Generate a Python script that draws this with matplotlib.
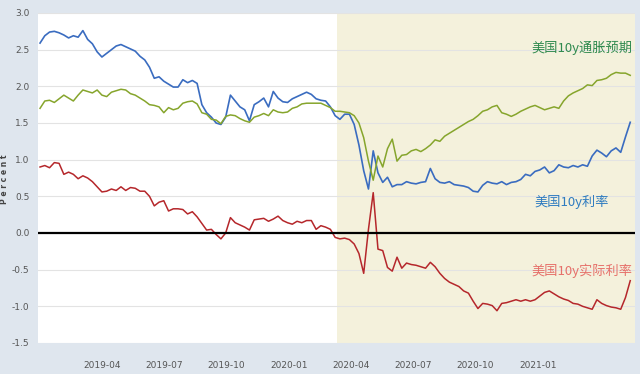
import numpy as np
import pandas as pd
import matplotlib
matplotlib.use('Agg')
import matplotlib.pyplot as plt
import matplotlib.dates as mdates

plt.rcParams['font.family'] = ['Noto Sans CJK SC', 'DejaVu Sans']

# weekly observations, starting 2018-12-31
fechas = pd.date_range('2018-12-31', periods=125, freq='7D')

tasa_10y = [
    2.59, 2.69, 2.74, 2.75, 2.73, 2.70, 2.66, 2.69, 2.67, 2.76,
    2.64, 2.58, 2.47, 2.40, 2.45, 2.50, 2.55, 2.57, 2.54, 2.51,
    2.48, 2.41, 2.36, 2.26, 2.11, 2.13, 2.07, 2.03, 1.99, 1.99,
    2.09, 2.05, 2.08, 2.04, 1.75, 1.64, 1.58, 1.50, 1.48, 1.58,
    1.88, 1.80, 1.72, 1.68, 1.53, 1.75, 1.79, 1.84, 1.72, 1.93,
    1.84, 1.79, 1.78, 1.83, 1.86, 1.89, 1.92, 1.89, 1.83, 1.81,
    1.80, 1.72, 1.60, 1.55, 1.62, 1.62, 1.48, 1.20, 0.85, 0.60,
    1.12, 0.82, 0.69, 0.76, 0.63, 0.66, 0.66, 0.70, 0.68, 0.67,
    0.69, 0.70, 0.88, 0.74, 0.69, 0.68, 0.70, 0.66, 0.65, 0.64,
    0.62, 0.57, 0.56, 0.65, 0.70, 0.68, 0.67, 0.70, 0.66, 0.69,
    0.70, 0.73, 0.80, 0.78, 0.84, 0.86, 0.90, 0.82, 0.85, 0.93,
    0.90, 0.89, 0.92, 0.90, 0.93, 0.91, 1.05, 1.13, 1.09, 1.04,
    1.12, 1.16, 1.10, 1.31, 1.51,
]

inflacion_10y = [
    1.70, 1.80, 1.81, 1.78, 1.83, 1.88, 1.84, 1.80, 1.88, 1.95,
    1.93, 1.91, 1.95, 1.88, 1.86, 1.92, 1.94, 1.96, 1.95, 1.90,
    1.88, 1.84, 1.80, 1.75, 1.74, 1.72, 1.64, 1.71, 1.68, 1.70,
    1.77, 1.79, 1.80, 1.76, 1.64, 1.62, 1.55, 1.54, 1.49, 1.59,
    1.61, 1.60, 1.56, 1.53, 1.51, 1.58, 1.60, 1.63, 1.60, 1.68,
    1.65, 1.64, 1.65, 1.70, 1.72, 1.76, 1.77, 1.77, 1.77, 1.77,
    1.74, 1.71, 1.66, 1.66, 1.65, 1.64, 1.60, 1.50, 1.30, 0.98,
    0.72, 1.05, 0.90, 1.15, 1.28, 0.98, 1.06, 1.07, 1.12, 1.14,
    1.11, 1.15, 1.20, 1.27, 1.25, 1.32, 1.36, 1.40, 1.44, 1.48,
    1.52, 1.55, 1.60, 1.66, 1.68, 1.72, 1.74, 1.64, 1.62, 1.59,
    1.62, 1.66, 1.69, 1.72, 1.74, 1.71, 1.68, 1.70, 1.72, 1.70,
    1.80, 1.87, 1.91, 1.94, 1.97, 2.02, 2.01, 2.08, 2.09, 2.11,
    2.16, 2.19, 2.18, 2.18, 2.15,
]

real_10y = [
    0.90, 0.92, 0.89, 0.96, 0.95, 0.80, 0.83, 0.80, 0.74, 0.78,
    0.75, 0.70, 0.63, 0.56, 0.57, 0.60, 0.58, 0.63, 0.58, 0.62,
    0.61, 0.57, 0.57, 0.50, 0.37, 0.42, 0.44, 0.30, 0.33, 0.33,
    0.32, 0.26, 0.29, 0.22, 0.13, 0.04, 0.05, -0.02, -0.08, 0.00,
    0.21, 0.14, 0.11, 0.08, 0.04, 0.18, 0.19, 0.20, 0.16, 0.19,
    0.23, 0.17, 0.14, 0.12, 0.16, 0.14, 0.17, 0.17, 0.05, 0.10,
    0.08, 0.05, -0.06, -0.08, -0.07, -0.09, -0.15, -0.28, -0.55, 0.05,
    0.55, -0.22, -0.24, -0.47, -0.52, -0.33, -0.48, -0.41, -0.43, -0.44,
    -0.46, -0.48, -0.40, -0.46, -0.55, -0.62, -0.67, -0.70, -0.73, -0.79,
    -0.82, -0.93, -1.03, -0.96, -0.97, -0.99, -1.06, -0.96, -0.95, -0.93,
    -0.91, -0.93, -0.91, -0.93, -0.91, -0.86, -0.81, -0.79, -0.83, -0.87,
    -0.90, -0.92, -0.96, -0.97, -1.00, -1.02, -1.04, -0.91, -0.96, -0.99,
    -1.01, -1.02, -1.04, -0.88, -0.65,
]

etiquetas_x = ['2019-04', '2019-07', '2019-10', '2020-01',
               '2020-04', '2020-07', '2020-10', '2021-01']
ticks_y = [3.0, 2.5, 2.0, 1.5, 1.0, 0.5, 0.0, -0.5, -1.0, -1.5]

fig = plt.figure(figsize=(6.4, 3.74), dpi=100, facecolor='#dfe6ee')
ax = fig.add_axes([38 / 640, 31 / 374, 597 / 640, 330 / 374])
ax.set_facecolor('white')

# zona sombreada (desde marzo 2020)
ax.axvspan(pd.Timestamp('2020-03-11'), pd.Timestamp('2021-06-30'),
           color='#f4f1dc', zorder=0, lw=0)

for y in ticks_y:
    ax.axhline(y, color='#e3e3e3', lw=0.8, zorder=1)
ax.axhline(0, color='black', lw=1.6, zorder=4)

ax.plot(fechas, tasa_10y, color='#3a6cc0', lw=1.2, zorder=3)
ax.plot(fechas, inflacion_10y, color='#86a52c', lw=1.1, zorder=3)
ax.plot(fechas, real_10y, color='#b5272b', lw=1.1, zorder=3)

ax.set_ylim(-1.5, 3.0)
ax.set_xlim(pd.Timestamp('2018-12-28'), pd.Timestamp('2021-05-24'))
ax.set_yticks(ticks_y)
ax.set_yticklabels([f'{v:.1f}' for v in ticks_y])
ax.set_xticks([pd.Timestamp(e + '-01') for e in etiquetas_x])
ax.set_xticklabels(etiquetas_x)
ax.tick_params(axis='both', length=0, labelsize=6.5, colors='#555555',
               labelfontfamily='DejaVu Sans')
ax.tick_params(axis='x', pad=13)
ax.tick_params(axis='y', pad=6)
for s in ax.spines.values():
    s.set_visible(False)

fig.text(5 / 640, 1 - 179 / 374, 'P e r c e n t', rotation=90,
         ha='center', va='center', fontsize=5.5, color='#444444',
         family='DejaVu Sans', fontweight='bold')

ax.text(pd.Timestamp('2021-05-20'), 2.52, '美国10y通胀预期', color='#2f8a4e',
        fontsize=9.5, ha='right', va='center')
ax.text(pd.Timestamp('2021-04-15'), 0.43, '美国10y利率', color='#2f7cc0',
        fontsize=9.5, ha='right', va='center')
ax.text(pd.Timestamp('2021-05-20'), -0.51, '美国10y实际利率', color='#e6706a',
        fontsize=9.5, ha='right', va='center')

fig.savefig('out.png', dpi=100, facecolor=fig.get_facecolor())
